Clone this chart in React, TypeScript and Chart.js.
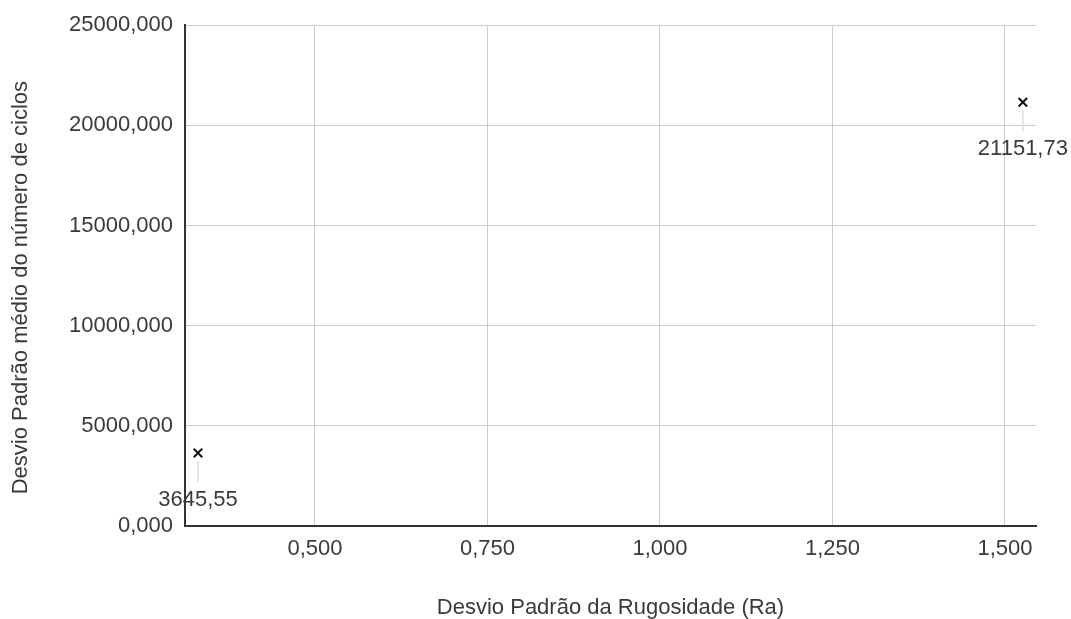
import React, { useEffect, useRef } from "react";
import { Chart, registerables } from "chart.js";

Chart.register(...registerables);

// Standard deviation of roughness (Ra) and of mean number of cycles
const SD_ROUGHNESS = [0.3304, 1.526];
const SD_CYCLES = [3645.55, 21151.73];

const X_TICKS = [0.5, 0.75, 1.0, 1.25, 1.5];
const Y_TICKS = [0, 5000, 10000, 15000, 20000, 25000];
const X_MIN = 0.3116;
const X_MAX = 1.545;
const Y_MIN = 0;
const Y_MAX = 25000;

const X_TITLE = "Desvio Padrão da Rugosidade (Ra)";
const Y_TITLE = "Desvio Padrão médio do número de ciclos";

const FONT = "'Liberation Sans', Arial, sans-serif";
const TEXT = "#3a3a3a";

const fmt = (v: number, d: number) => v.toFixed(d).replace(".", ",");

// Value labels under each point, joined by a short leader line
const pointLabels = {
  id: "pointLabels",
  afterDatasetsDraw(chart: any) {
    const { ctx } = chart;
    const meta = chart.getDatasetMeta(0);
    ctx.save();
    meta.data.forEach((el: any, i: number) => {
      const x = el.x;
      const y = el.y;
      ctx.strokeStyle = "#dddddd";
      ctx.lineWidth = 1.5;
      ctx.beginPath();
      ctx.moveTo(x, y + 8);
      ctx.lineTo(x, y + 29);
      ctx.stroke();
      ctx.fillStyle = TEXT;
      ctx.font = `22px ${FONT}`;
      ctx.textAlign = "center";
      ctx.textBaseline = "middle";
      ctx.fillText(fmt(SD_CYCLES[i], 2), x, y + 47);
    });
    ctx.restore();
  },
};

// Vertical axis title, set a little below the plot's middle
const yTitle = {
  id: "yTitle",
  afterDraw(chart: any) {
    const { ctx, chartArea } = chart;
    ctx.save();
    ctx.translate(21, (chartArea.top + chartArea.bottom) / 2 + 12);
    ctx.rotate(-Math.PI / 2);
    ctx.fillStyle = TEXT;
    ctx.font = `22px ${FONT}`;
    ctx.textAlign = "center";
    ctx.textBaseline = "middle";
    ctx.fillText(Y_TITLE, 0, 0);
    ctx.restore();
  },
};

export default function App() {
  const canvasRef = useRef<HTMLCanvasElement | null>(null);

  useEffect(() => {
    if (!canvasRef.current) return;
    const chart = new Chart(canvasRef.current, {
      type: "scatter",
      data: {
        datasets: [
          {
            data: SD_ROUGHNESS.map((x, i) => ({ x, y: SD_CYCLES[i] })),
            pointStyle: "crossRot",
            pointRadius: 6,
            pointHoverRadius: 6,
            borderColor: "#111111",
            backgroundColor: "#111111",
            pointBorderWidth: 2,
          },
        ],
      },
      plugins: [pointLabels, yTitle],
      options: {
        animation: false,
        responsive: true,
        maintainAspectRatio: false,
        layout: { padding: { top: 24, right: 35, left: 0, bottom: 0 } },
        plugins: {
          legend: { display: false },
          tooltip: { enabled: false },
        },
        scales: {
          x: {
            type: "linear",
            min: X_MIN,
            max: X_MAX,
            afterBuildTicks: (scale: any) => {
              scale.ticks = X_TICKS.map((value) => ({ value }));
            },
            afterFit: (scale: any) => {
              scale.height = 93;
            },
            grid: { color: "#cccccc", lineWidth: 1, drawTicks: false },
            border: { color: "#333333", width: 2 },
            ticks: {
              padding: 10,
              color: TEXT,
              font: { family: FONT, size: 22 },
              maxRotation: 0,
              callback: (v: any) => fmt(Number(v), 3),
            },
            title: {
              display: true,
              text: X_TITLE,
              color: TEXT,
              font: { family: FONT, size: 22, lineHeight: 1 },
              padding: { top: 0, bottom: 0 },
            },
          },
          y: {
            type: "linear",
            min: Y_MIN,
            max: Y_MAX,
            afterBuildTicks: (scale: any) => {
              scale.ticks = Y_TICKS.map((value) => ({ value }));
            },
            afterFit: (scale: any) => {
              scale.width = 185;
            },
            grid: { color: "#cccccc", lineWidth: 1, drawTicks: false },
            border: { color: "#333333", width: 2 },
            ticks: {
              padding: 12,
              color: TEXT,
              font: { family: FONT, size: 22 },
              callback: (v: any) => fmt(Number(v), 3),
            },
          },
        },
      },
    });
    return () => chart.destroy();
  }, []);

  return (
    <div
      style={{
        position: "absolute",
        left: 0,
        top: 0,
        width: 1071,
        height: 619,
        background: "#ffffff",
      }}
    >
      <canvas ref={canvasRef} />
    </div>
  );
}
